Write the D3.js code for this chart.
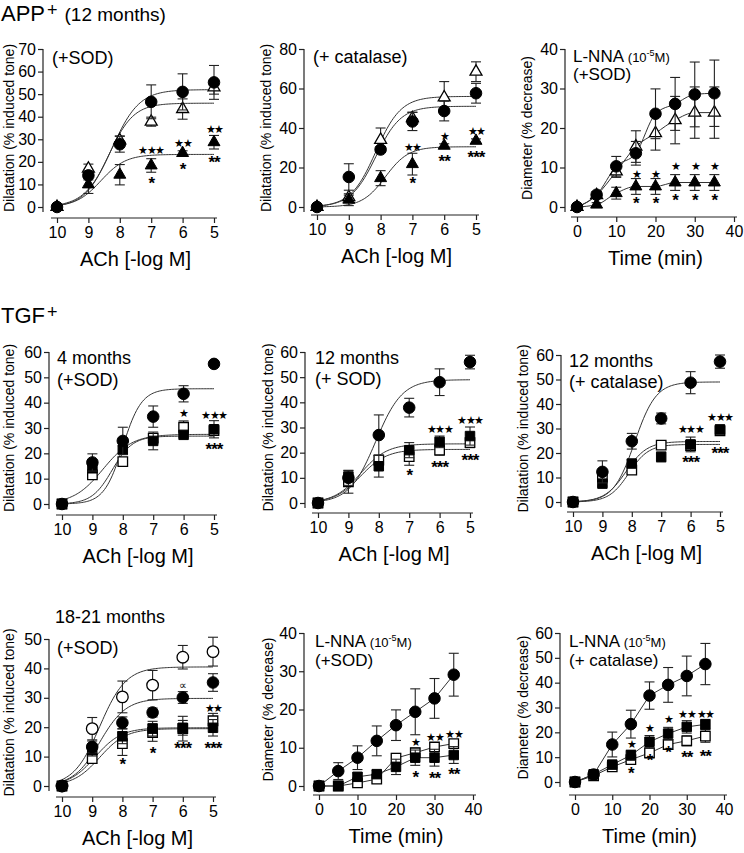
<!DOCTYPE html>
<html><head><meta charset="utf-8">
<script src="https://cdn.jsdelivr.net/npm/d3@7"></script>
<style>
body{margin:0;background:#fff}
svg{display:block}
text{font-family:"Liberation Sans",Arial,Helvetica,sans-serif;fill:#000}
</style>
</head><body>
<svg id="chart" width="744" height="853"></svg>
<script>
// ---------- DATA ----------
const doseX = [10, 9, 8, 7, 6, 5];
const timeX = [0, 5, 10, 15, 20, 25, 30, 35];
const doseTicks = [10, 9, 8, 7, 6, 5];
const timeTicks = [0, 10, 20, 30, 40];

// Panel 1: APP+ 12 months (+SOD)
const p1Circle = [0, 14, 27.8, 46.6, 51, 55.2];
const p1CircleErr = [0, 2, 3.5, 7.5, 8, 7.5];
const p1TriOpen = [0, 17, 29.5, 37.8, 43.4, 53];
const p1TriOpenErr = [0, 2, 2, 2, 4.5, 3];
const p1TriFilled = [0, 10, 14.3, 18.4, 23.9, 28.7];
const p1TriFilledErr = [0, 4, 4.5, 3, 1, 3];
const p1CircleFit = [52, 8.25, 1.0];     // top, -logEC50, hill
const p1TriOpenFit = [46, 8.35, 1.1];
const p1TriFilledFit = [23.3, 8.6, 1.1];
const p1Stars = [[7, 25.3, "★★★"], [7, 12.5, "*"], [6, 28.3, "★★"], [6, 18.4, "*"], [5, 34.6, "★★"], [5, 21.6, "**"]];

// Panel 2: APP+ 12 months (+ catalase)
const p2Circle = [0, 15.2, 29.1, 43.3, 48.6, 57.6];
const p2CircleErr = [0, 6.7, 1.5, 4.6, 5, 5];
const p2TriOpen = [0, 5, 34, 45, 55.5, 68.5];
const p2TriOpenErr = [0, 1, 6, 3, 8, 5];
const p2TriFilled = [0, 3.7, 14.6, 21.7, 31, 33.5];
const p2TriFilledErr = [0, 3, 3.8, 5.5, 1, 1];
const p2CircleFit = [51, 8.15, 1.1];
const p2TriOpenFit = [56, 8.15, 1.1];
const p2TriFilledFit = [30.5, 7.85, 1.2];
const p2Stars = [[7, 30.3, "★★"], [7, 14.1, "*"], [6, 36, "★"], [6, 25.2, "**"], [5, 38.5, "★★"], [5, 27.3, "***"]];

// Panel 3: APP+ L-NNA (+SOD)
const p3Circle = [0, 3.1, 10.3, 13.6, 23.6, 26.1, 28.5, 28.8];
const p3CircleErr = [0, 0.8, 2.5, 3, 6.3, 6.7, 8.2, 8.4];
const p3TriOpen = [0, 3, 9, 15.3, 18.7, 22, 23.9, 23.9];
const p3TriOpenErr = [0, 0.8, 1.5, 4, 4.3, 6, 6.5, 6.5];
const p3TriFilled = [0, 0.6, 3.5, 5.2, 5.2, 6.2, 6.2, 6.2];
const p3TriFilledErr = [0, 0.5, 1.5, 2, 2, 2, 2, 2];
const p3Stars = [[15, 8.4, "★"], [20, 8.4, "★"], [25, 10.3, "★"], [30, 10.3, "★"], [35, 10.3, "★"],
                 [15, 2, "*"], [20, 2, "*"], [25, 2.9, "*"], [30, 2.9, "*"], [35, 2.9, "*"]];

// Panel 4: TGF+ 4 months (+SOD)
const p4Circle = [0, 16.4, 24.9, 34.5, 43.5, 55.3];
const p4CircleErr = [0, 3.4, 5.4, 4.2, 3.2, 0];
const p4SqOpen = [0, 11.5, 16.7, 26, 30.3, 29];
const p4SqOpenErr = [0, 1, 1.5, 1.5, 2.5, 1.5];
const p4SqFilled = [0, 14.1, 21.4, 24.9, 27.3, 29.5];
const p4SqFilledErr = [0, 1.5, 1.5, 3.5, 1, 3.4];
const p4CircleFit = [45.5, 8.0, 1.4];
const p4SqOpenFit = [26.8, 8.35, 1.3];
const p4SqFilledFit = [27.5, 8.65, 0.9];
const p4Stars = [[6, 35.9, "★"], [5, 35.2, "★★★"], [5, 23.1, "***"]];

// Panel 5: TGF+ 12 months (+ SOD)
const p5Circle = [0, 10, 27, 37.9, 48, 56];
const p5CircleErr = [0, 3, 8, 3.7, 5.3, 2.7];
const p5SqOpen = [0, 8.4, 17, 18.4, 21, 24];
const p5SqOpenErr = [0, 4.5, 2, 3.4, 2, 2];
const p5SqFilled = [0, 10.4, 14.6, 21, 24.3, 26.6];
const p5SqFilledErr = [0, 2, 4.3, 3, 2.3, 3.6];
const p5CircleFit = [49, 8.1, 1.0];
const p5SqOpenFit = [21.3, 8.6, 1.0];
const p5SqFilledFit = [23.5, 8.6, 1.0];
const p5Stars = [[7, 12.8, "*"], [6, 29.3, "★★★"], [6, 15.7, "***"], [5, 33, "★★★"], [5, 18.6, "***"]];

// Panel 6: TGF+ 12 months (+ catalase)
const p6Circle = [0, 12.3, 24.8, 34.1, 48.7, 57.3];
const p6CircleErr = [0, 4.5, 3.2, 2.2, 4.5, 2.7];
const p6SqOpen = [0, 10.2, 13, 23.2, 23, 29];
const p6SqOpenErr = [0, 1.5, 1.5, 1.5, 2, 1.5];
const p6SqFilled = [0, 7.5, 15.7, 18.4, 23.5, 29.6];
const p6SqFilledErr = [0, 1, 1.5, 2, 3, 1.8];
const p6CircleFit = [49, 7.9, 1.2];
const p6SqOpenFit = [23.5, 8.1, 1.3];
const p6SqFilledFit = [24.7, 8.2, 1.2];
const p6Stars = [[6, 29.6, "★★★"], [6, 18, "***"], [5, 34.5, "★★★"], [5, 21.5, "***"]];

// Panel 7: TGF+ 18-21 months (+SOD)
const p7CircleOpen = [0, 19.5, 30.3, 34.3, 43.8, 45.7];
const p7CircleOpenErr = [0, 3.8, 5.4, 5, 4, 4.9];
const p7Circle = [0, 13.3, 21.5, 25, 30.1, 35.2];
const p7CircleErr = [0, 2, 2, 1.5, 2, 3];
const p7SqFilled = [0, 12.2, 16.9, 19.5, 19.8, 19.8];
const p7SqFilledErr = [0, 2, 2.5, 2.5, 2.5, 2.8];
const p7SqOpen = [0, 9.3, 14.4, 18.2, 19.5, 22.2];
const p7SqOpenErr = [0, 1.5, 4, 3, 4.2, 2.5];
const p7CircleOpenFit = [40.5, 8.75, 1.0];
const p7CircleFit = [29.8, 8.75, 1.0];
const p7SqFilledFit = [19.8, 8.9, 1.0];
const p7SqOpenFit = [19.5, 8.75, 1.0];
const p7Stars = [[8, 9, "*"], [7, 12.5, "*"], [6, 34.3, "∝"], [6, 14.4, "***"], [5, 26.6, "★★"], [5, 14.2, "***"]];

// Panel 8: TGF+ L-NNA (+SOD)
const p8Circle = [0, 3.9, 7.4, 11.8, 15.9, 19.4, 22.9, 29.1];
const p8CircleErr = [0, 2.2, 3.1, 3.9, 4, 6, 5.2, 5.6];
const p8SqFilled = [0, 0, 2.4, 3.1, 5, 7.4, 7.4, 8.1];
const p8SqFilledErr = [0, 0.5, 1, 1, 2, 2, 2.2, 2.2];
const p8SqOpen = [0, 0, 0.8, 1.8, 7.3, 8.7, 10.2, 11.1];
const p8SqOpenErr = [0, 0.5, 0.8, 1, 1.2, 1.2, 1, 1];
const p8Stars = [[25, 11.4, "★"], [25, 3.5, "*"], [30, 12.7, "★★"], [30, 3.2, "**"], [35, 13.7, "★★"], [35, 4.1, "**"]];

// Panel 9: TGF+ L-NNA (+ catalase)
const p9Circle = [0, 3, 15.1, 23.3, 34.8, 39.1, 42.7, 47.5];
const p9CircleErr = [0, 1, 5, 5.6, 5.5, 7, 8, 8.3];
const p9SqFilled = [0, 3.1, 7, 10.8, 16.2, 19.5, 22.2, 23.2];
const p9SqFilledErr = [0, 0.8, 1.2, 2, 2.5, 2.5, 2.5, 2];
const p9SqOpen = [0, 2.5, 6.1, 9, 11.7, 15.1, 16.6, 18.5];
const p9SqOpenErr = [0, 0.8, 1, 1.5, 2, 2, 2, 2.5];
const p9Stars = [[15, 15.2, "★"], [15, 5.1, "*"], [20, 21.8, "★"], [20, 10.5, "*"], [25, 25.3, "★"], [25, 13.5, "*"],
                 [30, 27.4, "★★"], [30, 11.5, "**"], [35, 27.4, "★★"], [35, 12.1, "**"]];

// ---------- LAYOUT ----------
const DOSE_TITLE = "ACh [-log M]", TIME_TITLE = "Time (min)";
const DIL_TITLE = "Dilatation (% induced tone)", DIA_TITLE = "Diameter (% decrease)";
const LNNA = [{t: "L-NNA ", fs: 17}, {t: "(10", fs: 13}, {t: "-5", fs: 9, sup: true}, {t: "M)", fs: 13}];

function S(sym, y, err, fit) { return {sym, y, err, fit}; }

const panels = [
  {yAxisX: 43, xr: [57, 214], yr: [207, 49], xAxisY: 218, xdom: [10, 5], ydom: [0, 70], yticks: d3.range(0, 71, 10),
   xticks: doseTicks, xs: doseX, xTitle: DOSE_TITLE, yTitle: DIL_TITLE, yTitleX: 9, stars: p1Stars, fitMode: true,
   labels: [{x: 52, y: 58, parts: [{t: "(+SOD)", fs: 18}]}],
   series: [S("triOpen", p1TriOpen, p1TriOpenErr, p1TriOpenFit), S("triFilled", p1TriFilled, p1TriFilledErr, p1TriFilledFit), S("circle", p1Circle, p1CircleErr, p1CircleFit)]},
  {yAxisX: 304, xr: [317, 476], yr: [207, 49], xAxisY: 215, xdom: [10, 5], ydom: [0, 80], yticks: d3.range(0, 81, 20),
   xticks: doseTicks, xs: doseX, xTitle: DOSE_TITLE, yTitle: DIL_TITLE, yTitleX: 266, stars: p2Stars, fitMode: true,
   labels: [{x: 313, y: 57, parts: [{t: "(+ catalase)", fs: 18}]}],
   series: [S("triOpen", p2TriOpen, p2TriOpenErr, p2TriOpenFit), S("triFilled", p2TriFilled, p2TriFilledErr, p2TriFilledFit), S("circle", p2Circle, p2CircleErr, p2CircleFit)]},
  {yAxisX: 565, xr: [577, 734], yr: [207, 49], xAxisY: 217, xdom: [0, 40], ydom: [0, 40], yticks: d3.range(0, 41, 10),
   xticks: timeTicks, xs: timeX, xTitle: TIME_TITLE, yTitle: DIA_TITLE, yTitleX: 527, stars: p3Stars, fitMode: false, smooth: true,
   labels: [{x: 573, y: 56, parts: LNNA}, {x: 573, y: 74, parts: [{t: "(+SOD)", fs: 17}]}],
   series: [S("triOpen", p3TriOpen, p3TriOpenErr), S("triFilled", p3TriFilled, p3TriFilledErr), S("circle", p3Circle, p3CircleErr)]},

  {yAxisX: 49, xr: [62, 214], yr: [504, 352], xAxisY: 515, xdom: [10, 5], ydom: [0, 60], yticks: d3.range(0, 61, 10),
   xticks: doseTicks, xs: doseX, xTitle: DOSE_TITLE, yTitle: DIL_TITLE, yTitleX: 9, stars: p4Stars, fitMode: true,
   labels: [{x: 57, y: 358, parts: [{t: "4 months", fs: 18}]}, {x: 57, y: 380, parts: [{t: "(+SOD)", fs: 18}]}],
   series: [S("sqOpen", p4SqOpen, p4SqOpenErr, p4SqOpenFit), S("sqFilled", p4SqFilled, p4SqFilledErr, p4SqFilledFit), S("circle", p4Circle, p4CircleErr, p4CircleFit)]},
  {yAxisX: 305, xr: [318, 470], yr: [503, 352], xAxisY: 513, xdom: [10, 5], ydom: [0, 60], yticks: d3.range(0, 61, 10),
   xticks: doseTicks, xs: doseX, xTitle: DOSE_TITLE, yTitle: DIL_TITLE, yTitleX: 268, stars: p5Stars, fitMode: true,
   labels: [{x: 315, y: 358, parts: [{t: "12 months", fs: 18}]}, {x: 315, y: 379, parts: [{t: "(+ SOD)", fs: 18}]}],
   series: [S("sqOpen", p5SqOpen, p5SqOpenErr, p5SqOpenFit), S("sqFilled", p5SqFilled, p5SqFilledErr, p5SqFilledFit), S("circle", p5Circle, p5CircleErr, p5CircleFit)]},
  {yAxisX: 561, xr: [573, 720], yr: [502, 355], xAxisY: 512, xdom: [10, 5], ydom: [0, 60], yticks: d3.range(0, 61, 10),
   xticks: doseTicks, xs: doseX, xTitle: DOSE_TITLE, yTitle: DIL_TITLE, yTitleX: 523, stars: p6Stars, fitMode: true,
   labels: [{x: 569, y: 361, parts: [{t: "12 months", fs: 18}]}, {x: 569, y: 382, parts: [{t: "(+ catalase)", fs: 18}]}],
   series: [S("sqOpen", p6SqOpen, p6SqOpenErr, p6SqOpenFit), S("sqFilled", p6SqFilled, p6SqFilledErr, p6SqFilledFit), S("circle", p6Circle, p6CircleErr, p6CircleFit)]},

  {yAxisX: 49, xr: [62, 213], yr: [786, 639], xAxisY: 797, xdom: [10, 5], ydom: [0, 50], yticks: d3.range(0, 51, 10),
   xticks: doseTicks, xs: doseX, xTitle: DOSE_TITLE, yTitle: DIL_TITLE, yTitleX: 9, stars: p7Stars, fitMode: true,
   labels: [{x: 55, y: 617, parts: [{t: "18-21 months", fs: 18}]}, {x: 57, y: 648, parts: [{t: "(+SOD)", fs: 18}]}],
   series: [S("sqOpen", p7SqOpen, p7SqOpenErr, p7SqOpenFit), S("sqFilled", p7SqFilled, p7SqFilledErr, p7SqFilledFit),
            S("circleOpen", p7CircleOpen, p7CircleOpenErr, p7CircleOpenFit), S("circle", p7Circle, p7CircleErr, p7CircleFit)]},
  {yAxisX: 304, xr: [319, 473], yr: [786, 633], xAxisY: 795, xdom: [0, 40], ydom: [0, 40], yticks: d3.range(0, 41, 10),
   xticks: timeTicks, xs: timeX, xTitle: TIME_TITLE, yTitle: DIA_TITLE, yTitleX: 268, stars: p8Stars, fitMode: false,
   labels: [{x: 315, y: 641, parts: LNNA}, {x: 315, y: 660, parts: [{t: "(+SOD)", fs: 17}]}],
   series: [S("sqOpen", p8SqOpen, p8SqOpenErr), S("sqFilled", p8SqFilled, p8SqFilledErr), S("circle", p8Circle, p8CircleErr)]},
  {yAxisX: 560, xr: [575, 724], yr: [782, 633], xAxisY: 795, xdom: [0, 40], ydom: [0, 60], yticks: d3.range(0, 61, 10),
   xticks: timeTicks, xs: timeX, xTitle: TIME_TITLE, yTitle: DIA_TITLE, yTitleX: 523, stars: p9Stars, fitMode: false,
   labels: [{x: 569, y: 641, parts: LNNA}, {x: 569, y: 660, parts: [{t: "(+ catalase)", fs: 17}]}],
   series: [S("sqOpen", p9SqOpen, p9SqOpenErr), S("sqFilled", p9SqFilled, p9SqFilledErr), S("circle", p9Circle, p9CircleErr)]}
];

const svg = d3.select("#chart");
svg.append("rect").attr("width", 744).attr("height", 853).attr("fill", "#fff");

// Headers
function header(x, y, main, sup, rest) {
  const t = svg.append("text").attr("x", x).attr("y", y);
  t.append("tspan").attr("font-size", 22).text(main);
  t.append("tspan").attr("font-size", 18).attr("dy", -5).attr("dx", 2).text(sup);
  if (rest) t.append("tspan").attr("font-size", 19).attr("dy", 5).attr("dx", 7).text(rest);
}
header(1, 21, "APP", "+", "(12 months)");
header(1, 323, "TGF", "+", null);

const symGen = {
  circle: d3.symbol().type(d3.symbolCircle).size(105),
  circleOpen: d3.symbol().type(d3.symbolCircle).size(105),
  triOpen: d3.symbol().type(d3.symbolTriangle).size(62),
  triFilled: d3.symbol().type(d3.symbolTriangle).size(62),
  sqOpen: d3.symbol().type(d3.symbolSquare).size(90),
  sqFilled: d3.symbol().type(d3.symbolSquare).size(90)
};
const isOpen = s => s.endsWith("Open");

panels.forEach(p => {
  const g = svg.append("g");
  const x = d3.scaleLinear().domain(p.xdom).range(p.xr);
  const y = d3.scaleLinear().domain(p.ydom).range(p.yr);

  // y axis
  const ya = g.append("g").attr("transform", `translate(${p.yAxisX},0)`)
    .call(d3.axisLeft(y).tickValues(p.yticks).tickFormat(d3.format("d")).tickSize(5).tickSizeOuter(0).tickPadding(2));
  ya.select(".domain").remove();
  ya.append("line").attr("x1", 0).attr("x2", 0).attr("y1", p.yr[1]).attr("y2", p.yr[0] + 5);
  // x axis
  const xa = g.append("g").attr("transform", `translate(0,${p.xAxisY})`)
    .call(d3.axisBottom(x).tickValues(p.xticks).tickFormat(d3.format("d")).tickSize(5).tickSizeOuter(0).tickPadding(4));
  xa.select(".domain").remove();
  xa.append("line").attr("x1", Math.min(...p.xr) - 6).attr("x2", Math.max(...p.xr) + 3).attr("y1", 0).attr("y2", 0);
  [ya, xa].forEach(a => {
    a.selectAll("line").attr("stroke", "#222").attr("stroke-width", 1.2);
    a.selectAll("text").attr("font-size", 16).attr("font-family", "Liberation Sans, Arial, sans-serif").attr("fill", "#000");
  });

  // titles
  g.append("text").attr("x", (p.xr[0] + p.xr[1]) / 2).attr("y", p.xAxisY + 48)
    .attr("text-anchor", "middle").attr("font-size", 20).text(p.xTitle);
  const yc = (p.yr[0] + p.yr[1]) / 2;
  g.append("text").attr("transform", `translate(${p.yTitleX + 5},${yc}) rotate(-90)`)
    .attr("text-anchor", "middle").attr("font-size", 14).text(p.yTitle);

  // labels
  p.labels.forEach(l => {
    const t = g.append("text").attr("x", l.x).attr("y", l.y + 6);
    l.parts.forEach((pt, i) => {
      const ts = t.append("tspan").attr("font-size", pt.fs).text(pt.t);
      if (pt.sup) ts.attr("dy", -6);
      else if (i > 0 && l.parts[i - 1].sup) ts.attr("dy", 6);
    });
  });

  // lines
  p.series.forEach(s => {
    let pts;
    if (p.fitMode) {
      const [top, x50, h] = s.fit;
      pts = d3.range(0, 101).map(i => {
        const xv = p.xdom[0] + (p.xdom[1] - p.xdom[0]) * i / 100;
        return [x(xv), y(top / (1 + Math.pow(10, (xv - x50) * h)))];
      });
    } else {
      pts = p.xs.map((xv, i) => [x(xv), y(s.y[i])]);
    }
    g.append("path").attr("d", d3.line().curve(p.smooth ? d3.curveMonotoneX : d3.curveLinear)(pts))
      .attr("fill", "none").attr("stroke", "#333").attr("stroke-width", 1);
  });

  // error bars + markers
  p.series.forEach(s => {
    const eg = g.append("g").attr("stroke", "#222").attr("stroke-width", 1.1);
    p.xs.forEach((xv, i) => {
      const e = s.err[i];
      if (!e) return;
      const cx = x(xv), y1 = y(s.y[i] + e), y2 = y(s.y[i] - e);
      eg.append("line").attr("x1", cx).attr("x2", cx).attr("y1", y1).attr("y2", y2);
      eg.append("line").attr("x1", cx - 5).attr("x2", cx + 5).attr("y1", y1).attr("y2", y1);
      eg.append("line").attr("x1", cx - 5).attr("x2", cx + 5).attr("y1", y2).attr("y2", y2);
    });
    g.append("g").selectAll("path").data(p.xs.map((xv, i) => [xv, s.y[i]])).join("path")
      .attr("d", symGen[s.sym]())
      .attr("transform", d => `translate(${x(d[0])},${y(d[1])})`)
      .attr("fill", isOpen(s.sym) ? "#fff" : "#000")
      .attr("stroke", "#000").attr("stroke-width", isOpen(s.sym) ? 1.3 : 1);
  });

  // significance marks
  p.stars.forEach(([xv, yv, txt]) => {
    const t = g.append("text").attr("x", x(xv)).attr("text-anchor", "middle").text(txt);
    if (txt.includes("★")) {
      t.attr("font-size", 11).attr("letter-spacing", -1.5).attr("font-family", "DejaVu Sans, sans-serif").attr("y", y(yv) + 4);
    } else if (txt === "∝") {
      t.attr("font-size", 11).attr("y", y(yv) + 3.5);
    } else {
      t.attr("font-size", 17).attr("font-weight", "bold").attr("letter-spacing", -1).attr("y", y(yv) + 10);
    }
  });
});
</script>
</body></html>
